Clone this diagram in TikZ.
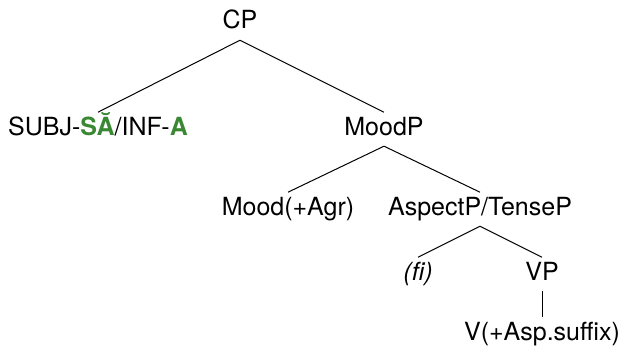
\documentclass[tikz,border=0pt]{standalone}
\usepackage{fontspec}
\setmainfont{TeX Gyre Heros}
\definecolor{morphgreen}{RGB}{58,135,52}
\newcommand{\gm}[1]{\textcolor{morphgreen}{\textbf{#1}}}
\begin{document}
\begin{tikzpicture}[x=0.5pt,y=-0.5pt,
  every node/.style={font=\fontsize{12.5}{15}\selectfont, inner xsep=1pt,
    inner ysep=2.2pt, text height=9pt, text depth=3.2pt, anchor=base},
  branch/.style={line width=0.5pt}]
  \useasboundingbox (0,0) rectangle (623,348);

  % tree nodes, placed on their baselines
  \node (cp)    at (240,29)  {CP};
  \node (subj)  at (98,135)  {SUBJ-\gm{SĂ}/INF-\gm{A}};
  \node (moodp) at (384,135) {MoodP};
  \node (mood)  at (288,215) {Mood(+Agr)};
  \node (asp)   at (480,215) {AspectP/TenseP};
  \node (fi)    at (418,280) {\textit{(fi)}};
  \node (vp)    at (542,280) {VP};
  \node (v)     at (542,340) {V(+Asp.suffix)};

  % branches
  \draw[branch] (cp.south) -- (subj.north);
  \draw[branch] (cp.south) -- (moodp.north);
  \draw[branch] (moodp.south) -- (mood.north);
  \draw[branch] (moodp.south) -- (asp.north);
  \draw[branch] (asp.south) -- (fi.north);
  \draw[branch] (asp.south) -- (vp.north);
  \draw[branch] (vp.south) -- (v.north);
\end{tikzpicture}
\end{document}
